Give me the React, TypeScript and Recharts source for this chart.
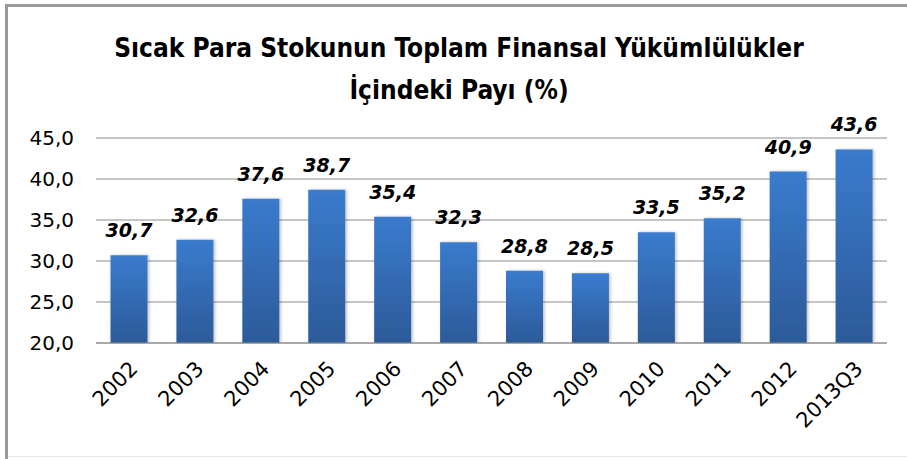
import { BarChart, Bar, XAxis, YAxis, CartesianGrid, LabelList } from "recharts";

const years = ["2002", "2003", "2004", "2005", "2006", "2007", "2008", "2009", "2010", "2011", "2012", "2013Q3"];
const shares = [30.7, 32.6, 37.6, 38.7, 35.4, 32.3, 28.8, 28.5, 33.5, 35.2, 40.9, 43.6];
const yTicks = [20, 25, 30, 35, 40, 45];

const titleLines = ["Sıcak Para Stokunun Toplam Finansal Yükümlülükler", "İçindeki Payı (%)"];

const data = years.map((year, i) => ({ year, share: shares[i] }));

const fmt = (v: number) => v.toFixed(1).replace(".", ",");

const FONT = "'DejaVu Sans', 'Noto Sans', sans-serif";
const TITLE_FONT = "'Liberation Sans Narrow', 'DejaVu Sans Condensed', 'Open Sans', sans-serif";

function YearTick({ x, y, payload }: any) {
  const tx = x + 10;
  const ty = y + 25;
  return (
    <text
      x={tx}
      y={ty}
      transform={`rotate(-45, ${tx}, ${ty})`}
      textAnchor="end"
      fill="#000"
      fontSize={21}
      fontFamily={FONT}
    >
      {payload.value}
    </text>
  );
}

export default function App() {
  return (
    <div style={{ position: "absolute", left: 0, top: 0, width: 907, height: 459, background: "#fff", overflow: "hidden" }}>
      <div style={{ position: "absolute", left: 5, top: 4, width: 902, height: 3, background: "#9a9a9a" }} />
      <div style={{ position: "absolute", left: 5, top: 4, width: 3, height: 455, background: "#9a9a9a" }} />
      <div style={{ position: "absolute", left: 8, top: 456, width: 899, height: 1, background: "#e8e8e8" }} />
      <div
        style={{
          position: "absolute",
          left: 0,
          top: 27,
          width: 918,
          textAlign: "center",
          fontFamily: TITLE_FONT,
          fontWeight: "bold",
          fontSize: 26,
          lineHeight: "42px",
          color: "#000",
        }}
      >
        {titleLines.map((t) => (
          <div key={t}>{t}</div>
        ))}
      </div>
      <div style={{ position: "absolute", left: 0, top: 0 }}>
        <BarChart width={907} height={459} data={data} margin={{ top: 138, right: 20, bottom: 36, left: 0 }} barCategoryGap="22%">
          <defs>
            <linearGradient id="barFill" x1="0" y1="0" x2="0" y2="1">
              <stop offset="0%" stopColor="#3a7bcd" />
              <stop offset="100%" stopColor="#2c5a99" />
            </linearGradient>
            <filter id="barShadow" x="-20%" y="-5%" width="140%" height="110%">
              <feDropShadow dx="1.5" dy="0" stdDeviation="1.5" floodColor="#000" floodOpacity="0.25" />
            </filter>
          </defs>
          <CartesianGrid vertical={false} stroke="#8c8c8c" strokeWidth={1} />
          <YAxis
            width={96}
            domain={[20, 45]}
            ticks={yTicks}
            allowDataOverflow
            tickFormatter={fmt}
            axisLine={false}
            tickLine={false}
            tickSize={0}
            tickMargin={22}
            tick={{ fill: "#000", fontSize: 20, fontFamily: FONT }}
          />
          <XAxis
            dataKey="year"
            height={80}
            interval={0}
            axisLine={{ stroke: "#8c8c8c" }}
            tickLine={false}
            tickSize={0}
            tick={<YearTick />}
          />
          <Bar dataKey="share" fill="url(#barFill)" filter="url(#barShadow)" isAnimationActive={false}>
            <LabelList
              dataKey="share"
              position="top"
              offset={18}
              formatter={(v: any) => fmt(Number(v))}
              fill="#000"
              fontSize={19}
              fontWeight="bold"
              fontStyle="italic"
              fontFamily={FONT}
            />
          </Bar>
        </BarChart>
      </div>
    </div>
  );
}
